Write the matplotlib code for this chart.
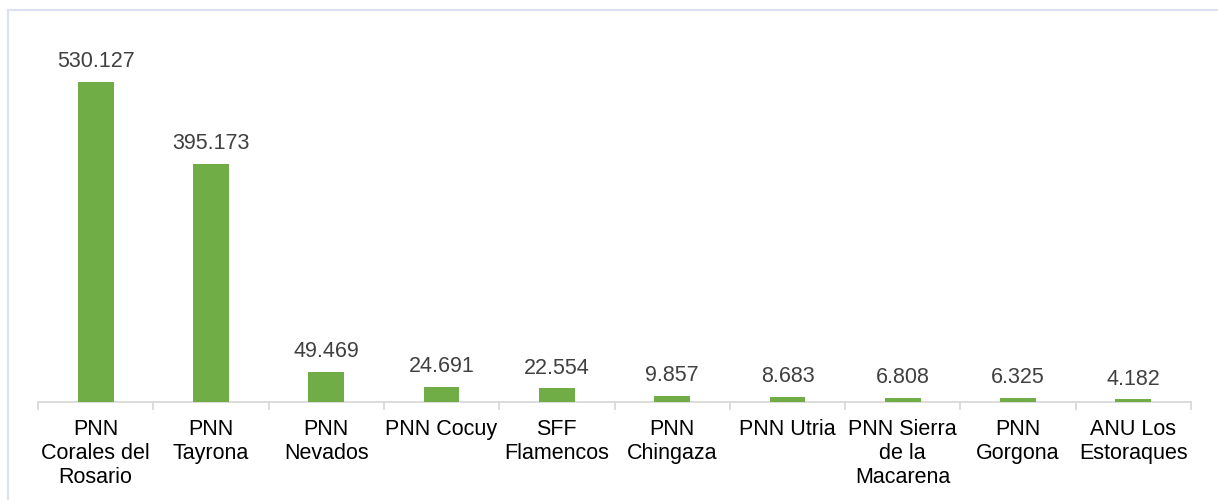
import matplotlib
matplotlib.use("Agg")
import matplotlib.pyplot as plt
from matplotlib.patches import Rectangle
import numpy as np

categories = ["PNN\nCorales del\nRosario", "PNN\nTayrona", "PNN\nNevados", "PNN Cocuy",
              "SFF\nFlamencos", "PNN\nChingaza", "PNN Utria", "PNN Sierra\nde la\nMacarena",
              "PNN\nGorgona", "ANU Los\nEstoraques"]
values = [530.127, 395.173, 49.469, 24.691, 22.554, 9.857, 8.683, 6.808, 6.325, 4.182]
value_labels = ["530.127", "395.173", "49.469", "24.691", "22.554", "9.857", "8.683",
                "6.808", "6.325", "4.182"]

plt.rcParams['font.family'] = ['Liberation Sans', 'DejaVu Sans']

fig = plt.figure(figsize=(12.18, 5.0), dpi=100)
W, H = 1218, 500
ax = fig.add_axes([38 / W, 98 / H, (1191 - 38) / W, (402 - 40) / H])

x = np.arange(len(categories))
bars = ax.bar(x, values, width=0.31, color="#70AD47", zorder=3)
for xi, v, lab in zip(x, values, value_labels):
    ax.annotate(lab, (xi, v), xytext=(0, 7), textcoords="offset points",
                ha="center", va="bottom", fontsize=15.5, color="#404040")

ax.set_xlim(-0.5, len(categories) - 0.5)
ax.set_ylim(0, 600)
for s in ["top", "right", "left"]:
    ax.spines[s].set_visible(False)
ax.spines["bottom"].set_color("#D9D9D9")
ax.spines["bottom"].set_linewidth(1.3)
ax.set_yticks([])
ax.set_xticks(x)
ax.set_xticklabels(categories, fontsize=15.5, color="#000000", linespacing=1.2)
ax.tick_params(axis="x", which="major", length=0, pad=12)
ax.set_xticks(np.arange(-0.5, len(categories), 1.0), minor=True)
ax.tick_params(axis="x", which="minor", length=6, color="#D9D9D9", width=1.3)

fig.patches.append(Rectangle((8 / W, -0.02), 1.1, 1 - 10 / H + 0.02, transform=fig.transFigure,
                             fill=False, edgecolor="#D9E1F2", linewidth=1.5))

fig.savefig("out.png", dpi=100)
